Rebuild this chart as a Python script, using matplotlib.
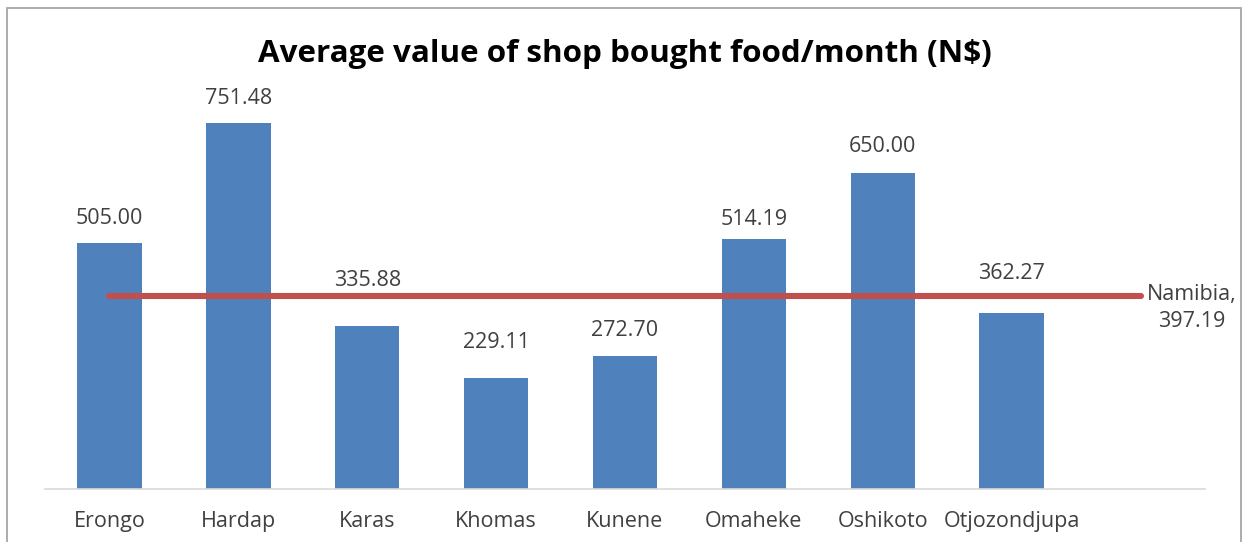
import matplotlib
matplotlib.use("Agg")
import matplotlib.pyplot as plt
from matplotlib.patches import Rectangle

# data
categories = ["Erongo", "Hardap", "Karas", "Khomas", "Kunene",
              "Omaheke", "Oshikoto", "Otjozondjupa"]
values = [505.00, 751.48, 335.88, 229.11, 272.70, 514.19, 650.00, 362.27]
namibia = 397.19
# how far each data label sits above its bar (pixels), as in the original
label_offsets = [25, 25, 45, 35, 26, 19, 26, 39]

plt.rcParams['font.family'] = ['Open Sans', 'DejaVu Sans']

W, H = 1244, 542
fig = plt.figure(figsize=(W / 100, H / 100), dpi=100)
ax = fig.add_axes([45 / W, 1 - 489 / H, 1160 / W, (489 - 99.7) / H])

x = list(range(len(categories)))
ax.bar(x, values, width=0.5, color='#4F81BD', zorder=2)

# Namibia average line spans one extra (empty) category
xl = list(range(len(categories) + 1))
ax.plot(xl, [namibia] * len(xl), color='#C0504D', lw=4.4,
        solid_capstyle='round', zorder=3)

for xi, v, off in zip(x, values, label_offsets):
    ax.annotate(f"{v:.2f}", (xi, v), xytext=(0, off), textcoords='offset pixels',
                ha='center', va='center', fontsize=15.5, color='#404040', zorder=4)

ax.annotate(f"Namibia,\n{namibia:.2f}", (xl[-1], namibia), xytext=(51, -12),
            textcoords='offset pixels', ha='center', va='center',
            fontsize=15.5, color='#404040', linespacing=1.4)

ax.set_xlim(-0.5, len(categories) + 0.5)
ax.set_ylim(0, 800)
ax.set_xticks(xl)
ax.set_xticklabels(categories + [""], fontsize=15.5, color='#404040')
ax.tick_params(axis='x', length=0, pad=16)
ax.set_yticks([])
for s in ['top', 'right', 'left']:
    ax.spines[s].set_visible(False)
ax.spines['bottom'].set_color('#D9D9D9')
ax.spines['bottom'].set_linewidth(1.2)

fig.text(625 / W, 1 - 62 / H, "Average value of shop bought food/month (N$)",
         ha='center', va='baseline', fontsize=22.6, fontweight='bold', color='black')

# chart border
fig.patches.append(Rectangle((7 / W, -0.05), (1241 - 7) / W, 1.05 - 8 / H,
                             transform=fig.transFigure, fill=False,
                             edgecolor='#A6A6A6', lw=1.3))

fig.savefig("out.png", dpi=100)
